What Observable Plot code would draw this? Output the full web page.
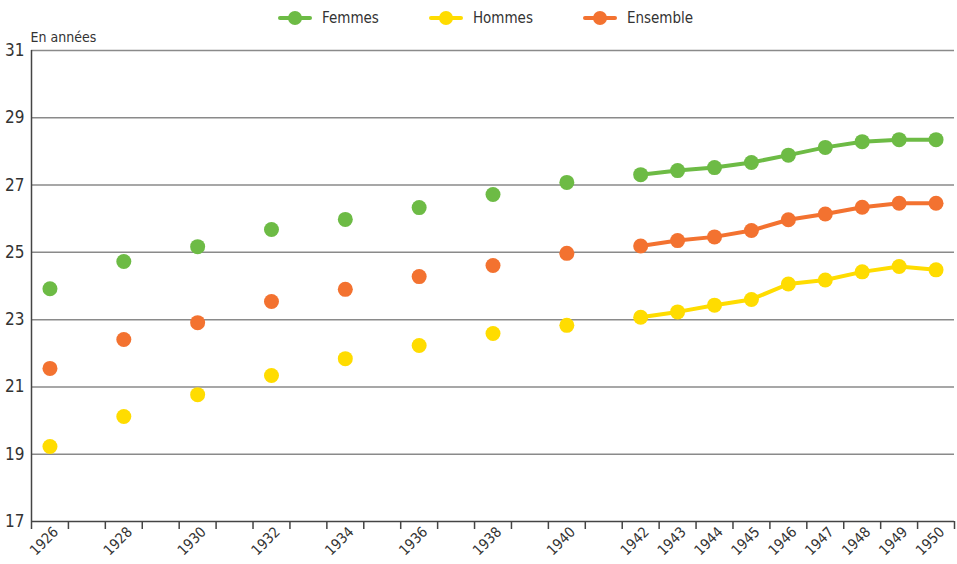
<!DOCTYPE html>
<html><head><meta charset="utf-8">
<script src="https://cdn.jsdelivr.net/npm/d3@7"></script>
<script src="https://cdn.jsdelivr.net/npm/@observablehq/plot@0.6"></script>
<style>
body{margin:0;background:#fff;font-family:"Liberation Sans Narrow","DejaVu Sans Condensed",sans-serif;}
#legend{height:28px;display:flex;align-items:center;padding-left:278px;font-size:15px;color:#333;box-sizing:border-box;padding-top:8px}
.item{display:flex;align-items:center}
.sw{position:relative;width:34px;height:16px;margin-right:10px}
.sw .l{position:absolute;left:0;right:0;top:6px;height:4px;border-radius:2px}
.sw .d{position:absolute;left:10px;top:1px;width:14px;height:14px;border-radius:50%}
</style></head>
<body>
<div id="legend"></div>
<div id="chart"></div>
<script>
const seriesNames = ["Femmes", "Hommes", "Ensemble"];
const colors = ["#6dbb45", "#ffdc00", "#f37230"];
const years = [1926,1928,1930,1932,1934,1936,1938,1940,1942,1943,1944,1945,1946,1947,1948,1949,1950];
const femmes   = [23.92,24.73,25.17,25.68,25.98,26.33,26.72,27.08,27.31,27.43,27.52,27.67,27.89,28.12,28.29,28.35,28.35];
const hommes   = [19.23,20.12,20.77,21.34,21.84,22.23,22.59,22.83,23.07,23.23,23.43,23.60,24.06,24.18,24.42,24.58,24.48];
const ensemble = [21.55,22.41,22.91,23.54,23.90,24.28,24.61,24.97,25.19,25.35,25.46,25.65,25.97,26.14,26.34,26.46,26.46];
const yTicks = [17,19,21,23,25,27,29,31];
const xLabels = years;
const lineStart = 1942;

const valuesBySeries = [femmes, hommes, ensemble];
const data = [];
seriesNames.forEach((s, i) => years.forEach((y, j) => data.push({year: y, value: valuesBySeries[i][j], serie: s})));

// legend
const lg = document.getElementById("legend");
seriesNames.forEach((s, i) => {
  const it = document.createElement("div");
  it.className = "item";
  it.style.marginRight = i < 2 ? "50px" : "0";
  it.innerHTML = `<div class="sw"><div class="l" style="background:${colors[i]}"></div><div class="d" style="background:${colors[i]}"></div></div><span>${s}</span>`;
  lg.appendChild(it);
});

const boundaries = d3.range(1925.5, 1951, 1);
const plot = Plot.plot({
  width: 957, height: 536,
  marginLeft: 31, marginRight: 3, marginTop: 22, marginBottom: 43,
  style: {fontFamily: "Liberation Sans Narrow, DejaVu Sans Condensed, sans-serif", background: "#fff", overflow: "visible"},
  x: {domain: [1925.5, 1950.5], axis: null},
  y: {domain: [17, 31], axis: null},
  color: {domain: seriesNames, range: colors},
  marks: [
    Plot.gridY(yTicks.slice(1), {stroke: "#8a8a8a", strokeOpacity: 1, strokeWidth: 1.5}),
    Plot.axisY(yTicks, {tickSize: 0, tickPadding: 7, fontSize: 17, fill: "#333", label: null}),
    Plot.text(["En années"], {frameAnchor: "top-left", lineAnchor: "middle", dx: -1, dy: -13, fontSize: 14, fill: "#333", textAnchor: "start"}),
    Plot.axisX(boundaries, {tickSize: 8, text: null, stroke: "#444", strokeWidth: 1.5, label: null}),
    Plot.axisX(xLabels, {tickSize: 0, tickRotate: -45, tickPadding: 8, fontSize: 14.5, fill: "#333", tickFormat: d => String(d), label: null, dx: 6}),
    Plot.ruleX([1925.5], {stroke: "#444", strokeWidth: 1.5}),
    Plot.ruleY([17], {stroke: "#444", strokeWidth: 1.5}),
    Plot.line(data.filter(d => d.year >= lineStart), {x: "year", y: "value", z: "serie", stroke: "serie", strokeWidth: 4}),
    Plot.dot(data, {x: "year", y: "value", fill: "serie", r: 7.5})
  ]
});
document.getElementById("chart").appendChild(plot);
</script>
</body></html>
